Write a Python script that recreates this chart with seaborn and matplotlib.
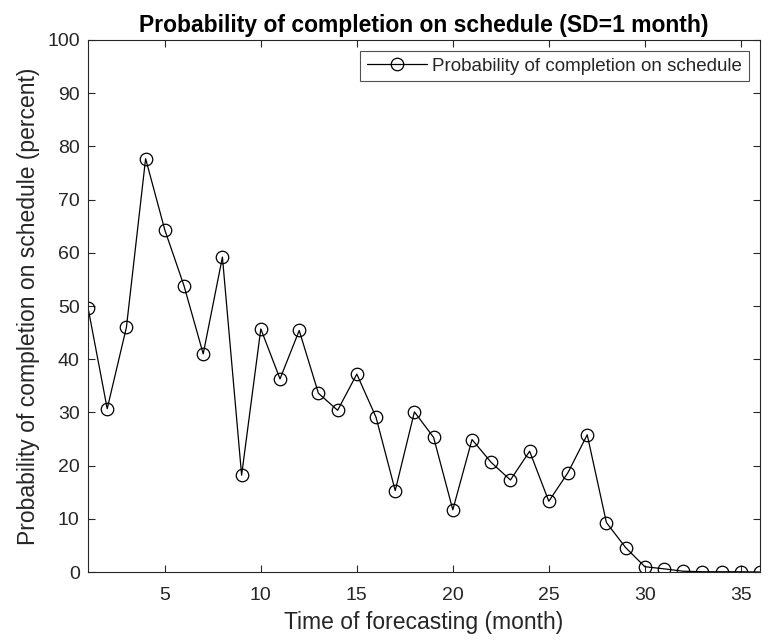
import pandas as pd
import matplotlib
matplotlib.use('Agg')
import matplotlib.pyplot as plt
import seaborn as sns

# Time of forecasting (month) and probability (percent)
months = list(range(1, 37))
prob = [49.7, 30.7, 46.0, 77.7, 64.3, 53.8, 41.0, 59.2, 18.2, 45.7,
        36.3, 45.4, 33.6, 30.4, 37.2, 29.1, 15.3, 30.1, 25.3, 11.7,
        24.9, 20.6, 17.3, 22.7, 13.3, 18.7, 25.8, 9.3, 4.6, 1.0,
        0.6, 0.15, 0.05, 0.05, 0.05, 0.0]
x_ticks = [5, 10, 15, 20, 25, 30, 35]
y_ticks = list(range(0, 101, 10))

df = pd.DataFrame({'month': months, 'prob': prob})

sns.set_theme(style="ticks")
plt.rcParams['font.family'] = ['Liberation Sans', 'DejaVu Sans']
plt.rcParams['text.color'] = '#262626'
plt.rcParams['axes.labelcolor'] = '#262626'
plt.rcParams['xtick.color'] = '#262626'
plt.rcParams['ytick.color'] = '#262626'

fig = plt.figure(figsize=(7.68, 6.41), dpi=100)
ax = fig.add_axes([0.1146, 0.1076, 0.875, 0.830])

sns.lineplot(data=df, x='month', y='prob', ax=ax, color='black', linewidth=0.9,
             marker='o', markersize=9, markerfacecolor='none',
             markeredgecolor='black', markeredgewidth=0.9,
             label='Probability of completion on schedule')

ax.set_xlim(1, 36)
ax.set_ylim(0, 100)
ax.set_xticks(x_ticks)
ax.set_yticks(y_ticks)
ax.tick_params(direction='in', top=True, right=True, labelsize=14, length=5, width=0.8)
ax.tick_params(axis='x', pad=11)
ax.tick_params(axis='y', pad=6)
for s in ax.spines.values():
    s.set_linewidth(0.8)
    s.set_color('#262626')

ax.set_title('Probability of completion on schedule (SD=1 month)', fontsize=16.5,
             fontweight='bold', color='black', pad=6)
ax.set_xlabel('Time of forecasting (month)', fontsize=16.5, labelpad=5)
ax.set_ylabel('Probability of completion on schedule (percent)', fontsize=16.5, labelpad=5)

leg = ax.legend(loc='upper right', fontsize=13.5, frameon=True, fancybox=False,
                edgecolor='#262626', handlelength=3.2, handletextpad=0.3,
                borderpad=0.35, borderaxespad=0.6)
leg.get_frame().set_linewidth(0.8)

fig.savefig('out.png', dpi=100)
